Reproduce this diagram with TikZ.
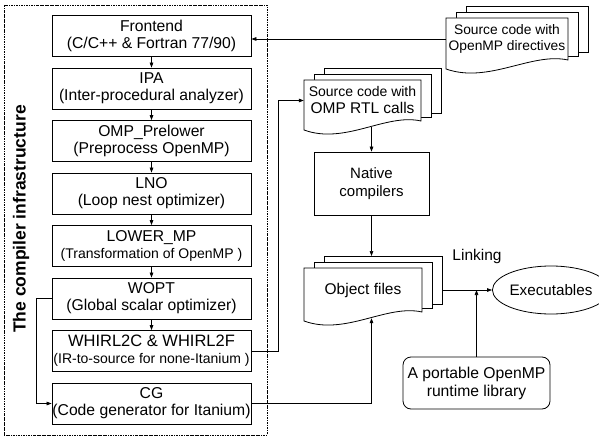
\documentclass[tikz,border=0pt]{standalone}
\usepackage{fontspec}
\setmainfont{Liberation Sans}
\usetikzlibrary{arrows.meta,shapes.geometric,calc}

\newcommand\docstack[7]{% name, x1, y1, x2, yr, font, text
  \pgfmathsetmacro\dsW{#4-#2}
  \pgfmathsetmacro\dsH{#5-#3}
  \draw[page] (#2+20,#3-12) rectangle (#4+20,#5-8);
  \draw[page] (#2+10,#3-6) rectangle (#4+10,#5-4);
  \draw[page] (#2,#5+9) -- (#2,#3) -- (#4,#3) -- (#4,#5)
     .. controls ({#4-0.3*\dsW},{#5-8}) and ({#2+0.35*\dsW},{#5+24}) .. (#2,#5+9) -- cycle;
  \node[docnode, font=#6, minimum width=\dsW pt, minimum height=\dsH pt] (#1) at ({(#2+#4)/2},{(#3+#5)/2}) {#7};
  \coordinate (#1-r) at (#4+20,{(#3+#5)/2});
  \coordinate (#1-t) at ({(#2+#4)/2+20},#3-12);
}

\begin{document}
\begin{tikzpicture}[x=1pt,y=-1pt,
  stage/.style={draw, line width=0.8pt, minimum width=199pt, minimum height=41pt,
    inner sep=0pt, align=center, font=\fontsize{15.7}{17}\selectfont},
  conn/.style={line width=0.7pt, -{Triangle[length=5pt,width=3.6pt]}},
  page/.style={draw, line width=0.8pt, fill=white},
  docnode/.style={inner sep=0pt, align=center},
  frame/.style={line width=0.7pt, dash pattern=on 2.5pt off 1pt on 0.6pt off 1pt},
]
\useasboundingbox (0,0) rectangle (599,438);

% frame and title
\draw[frame] (4,5) rectangle (267,435);
\node[rotate=90, font=\bfseries\fontsize{17.5}{20}\selectfont] (title) at (21,219) {The compiler infrastructure};

% stages
\node[stage] (frontend) at (151.5,36)    {Frontend\\(C/C++ \& Fortran 77/90)};
\node[stage] (ipa)      at (151.5,88.5)  {IPA\\(Inter-procedural analyzer)};
\node[stage] (omp)      at (151.5,141)   {OMP\_Prelower\\(Preprocess OpenMP)};
\node[stage] (lno)      at (151.5,193.5) {LNO\\(Loop nest optimizer)};
\node[stage] (lower)    at (151.5,246)   {LOWER\_MP\\{\fontsize{14}{16}\selectfont (Transformation of OpenMP )}};
\node[stage] (wopt)     at (151.5,298.5) {WOPT\\(Global scalar optimizer)};
\node[stage] (whirl)    at (151.5,351)   {{\fontsize{16.5}{17}\selectfont WHIRL2C \& WHIRL2F}\\{\fontsize{14}{16}\selectfont (IR-to-source for none-Itanium )}};
\node[stage] (cg)       at (151.5,403.5) {CG\\(Code generator for Itanium)};

\foreach \a/\b in {frontend/ipa, ipa/omp, omp/lno, lno/lower, lower/wopt, wopt/whirl}
  \draw[conn] (\a.south) -- (\b.north);

% documents
\docstack{docA}{446}{18}{568}{60}{\fontsize{13.8}{16}\selectfont}{Source code with\\OpenMP directives}
\docstack{docB}{304}{80}{421}{121}{\fontsize{15.5}{17}\selectfont}{{\fontsize{14}{16}\selectfont Source code with}\\OMP RTL calls}
\docstack{docC}{304}{268}{422}{312}{\fontsize{15.5}{17}\selectfont}{Object files}

% other nodes
\node[draw, line width=0.8pt, minimum width=115pt, minimum height=63pt, inner sep=0pt,
  align=center, font=\fontsize{15}{18}\selectfont] (native) at (371.5,183.5) {Native\\compilers};
\node[draw, line width=0.8pt, rounded corners=8pt, minimum width=147pt, minimum height=52pt,
  inner sep=0pt, align=center, font=\fontsize{15.7}{18}\selectfont] (runtime) at (476.5,383) {A portable OpenMP\\runtime library};
\node[draw, ellipse, line width=0.8pt, minimum width=95pt, minimum height=48pt, inner sep=0pt,
  font=\fontsize{15.2}{17}\selectfont] (exe) at (551,290) {Executables};
\node[font=\fontsize{15.5}{17}\selectfont] (linking) at (477,256) {Linking};

% connectors
\draw[conn] (docA.west) -- (docA.west -| frontend.east);
\draw[conn] (whirl.east) -- ++(27,0) |- (docB.west);
\draw[conn] (wopt.west) -- ++(-15,0) |- (cg.west);
\draw[conn] ($(docB.south -| native.north)+(0,6)$) -- (native.north);
\draw[conn] (native.south) -- (native.south |- docC-t);
\draw[conn] (cg.east) -| ($(docC.south -| native.south)+(0,6)$);
\draw[conn] (docC-r) -- (exe.west);
\coordinate (jn) at (runtime.north |- docC-r);
\draw[conn] (runtime.north) -- (jn);
\end{tikzpicture}
\end{document}
